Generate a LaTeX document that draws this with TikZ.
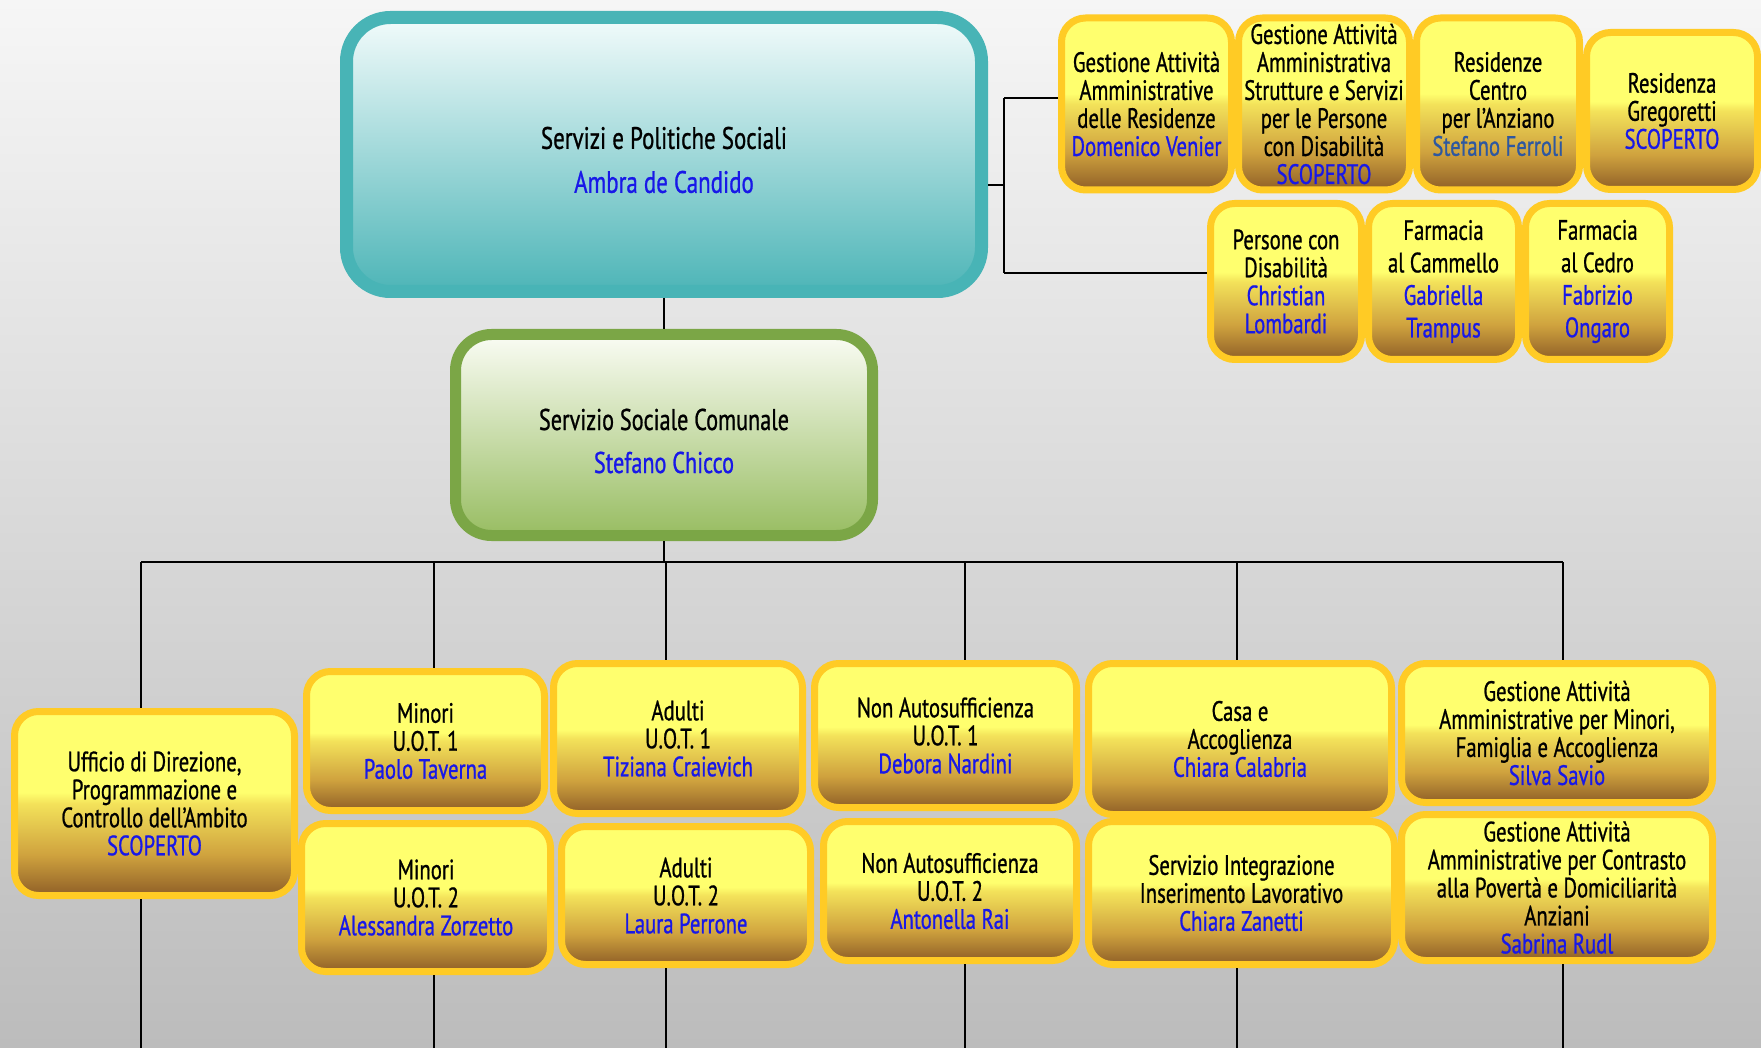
\documentclass[tikz,border=0pt]{standalone}
\usepackage{fontspec}
\setmainfont{PT Sans}[FakeStretch=0.74, FakeBold=0.8]
\definecolor{bgtop}{HTML}{F6F6F6}
\definecolor{bgbot}{HTML}{BCBCBC}
\definecolor{tealb}{HTML}{48B4B6}
\definecolor{tealtop}{HTML}{F2FBFB}
\definecolor{tealbot}{HTML}{4DB5B7}
\definecolor{greenb}{HTML}{7BA646}
\definecolor{greentop}{HTML}{FAFCF4}
\definecolor{greenbot}{HTML}{98BD62}
\definecolor{ybord}{HTML}{FFCB25}
\definecolor{ytop}{HTML}{FFFF6E}
\definecolor{ymid}{HTML}{F3E25A}
\definecolor{ylow}{HTML}{CFA23E}
\definecolor{ybot}{HTML}{8F5F27}
\definecolor{nameblue}{HTML}{1818E8}
\definecolor{nameslate}{HTML}{2E58A0}
\pgfdeclareverticalshading{yboxshade}{100bp}{color(0bp)=(ybot); color(25bp)=(ybot); color(36bp)=(ylow); color(50bp)=(ymid); color(53bp)=(ytop); color(100bp)=(ytop)}
\newcommand\nm[1]{\textcolor{nameblue}{#1}}
\tikzset{
  ybox/.style={draw=ybord, line width=7pt, rounded corners=24pt, shading=yboxshade,
    align=center, inner sep=0pt, font=\fontsize{28}{28}\selectfont},
  link/.style={draw=black, line width=1.6pt},
  bigtext/.style={align=center, inner sep=0pt, font=\fontsize{31}{44}\selectfont},
}
\begin{document}
\begin{tikzpicture}[x=1pt,y=-1pt]
\fill[top color=bgtop, bottom color=bgbot] (0,0) rectangle (1761,1048);
\useasboundingbox (0,0) rectangle (1761,1048);

% main boxes
\node[draw=tealb, line width=13pt, rounded corners=44pt, top color=tealtop, bottom color=tealbot,
  minimum width=635pt, minimum height=274pt, inner sep=0pt] (top) at (664,154.5) {};
\node[bigtext] (topT) at (664,160) {Servizi e Politiche Sociali\\\nm{Ambra de Candido}};
\node[draw=greenb, line width=11pt, rounded corners=36pt, top color=greentop, bottom color=greenbot,
  minimum width=417pt, minimum height=201pt, inner sep=0pt] (green) at (664,435) {};
\node[bigtext, font=\fontsize{30}{43}\selectfont] (greenT) at (664,441) {Servizio Sociale Comunale\\\nm{Stefano Chicco}};

% top right boxes
\node[ybox, minimum width=170pt, minimum height=172pt] (B1) at (1146.5,104) {Gestione Attività\\Amministrative\\delle Residenze\\\nm{Domenico Venier}};
\node[ybox, minimum width=171pt, minimum height=172pt] (B2) at (1324,104) {Gestione Attività\\Amministrativa\\Strutture e Servizi\\per le Persone\\con Disabilità\\\nm{SCOPERTO}};
\node[ybox, minimum width=163pt, minimum height=172pt] (B3) at (1498,104) {Residenze\\Centro\\per l'Anziano\\\textcolor{nameslate}{Stefano Ferroli}};
\node[ybox, minimum width=171pt, minimum height=157pt] (B4) at (1672,111) {Residenza\\Gregoretti\\\nm{SCOPERTO}};
\node[ybox, minimum width=151pt, minimum height=156pt] (B5) at (1286,281.5) {Persone con\\Disabilità\\\nm{Christian}\\\nm{Lombardi}};
\node[ybox, minimum width=150pt, minimum height=156pt, font=\fontsize{28}{32.5}\selectfont] (B6) at (1443.5,281.5) {Farmacia\\al Cammello\\\nm{Gabriella}\\\nm{Trampus}};
\node[ybox, minimum width=144pt, minimum height=156pt, font=\fontsize{28}{32.5}\selectfont] (B7) at (1597.5,281.5) {Farmacia\\al Cedro\\\nm{Fabrizio}\\\nm{Ongaro}};

% bottom boxes
\node[ybox, minimum width=280pt, minimum height=184pt] (U) at (154.5,803.5) {Ufficio di Direzione,\\Programmazione e\\Controllo dell'Ambito\\\nm{SCOPERTO}};
\node[ybox, minimum width=238pt, minimum height=139pt] (M1) at (425.5,741) {Minori\\U.O.T. 1\\\nm{Paolo Taverna}};
\node[ybox, minimum width=249pt, minimum height=148pt] (M2) at (426,897.5) {Minori\\U.O.T. 2\\\nm{Alessandra Zorzetto}};
\node[ybox, minimum width=249pt, minimum height=150pt] (A1) at (678,738.5) {Adulti\\U.O.T. 1\\\nm{Tiziana Craievich}};
\node[ybox, minimum width=249pt, minimum height=138pt] (A2) at (686,895.5) {Adulti\\U.O.T. 2\\\nm{Laura Perrone}};
\node[ybox, minimum width=262pt, minimum height=144pt] (N1) at (945.5,735.5) {Non Autosufficienza\\U.O.T. 1\\\nm{Debora Nardini}};
\node[ybox, minimum width=253pt, minimum height=139pt] (N2) at (950,891) {Non Autosufficienza\\U.O.T. 2\\\nm{Antonella Rai}};
\node[ybox, minimum width=303pt, minimum height=151pt] (C1) at (1240,739) {Casa e\\Accoglienza\\\nm{Chiara Calabria}};
\node[ybox, minimum width=306pt, minimum height=143pt] (C2) at (1241.5,893) {Servizio Integrazione\\Inserimento Lavorativo\\\nm{Chiara Zanetti}};
\node[ybox, minimum width=311pt, minimum height=139pt] (G1) at (1557,733) {Gestione Attività\\Amministrative per Minori,\\Famiglia e Accoglienza\\\nm{Silva Savio}};
\node[ybox, minimum width=311pt, minimum height=146pt] (G2) at (1557,887.5) {Gestione Attività\\Amministrative per Contrasto\\alla Povertà e Domiciliarità\\Anziani\\\nm{Sabrina Rudl}};

% connectors: top right bracket
\coordinate (jc) at (1004,185);
\coordinate (jt) at (1004,98);
\coordinate (jb) at (1004,273);
\draw[link] (top.east |- jc) -- (jc);
\draw[link] (jt) -- (jb);
\draw[link] (jt) -- (jt -| B1.west);
\draw[link] (jb) -- (jb -| B5.west);

% vertical main
\draw[link] (top.south) -- (green.north);

% bus
\coordinate (d1) at (141,562);
\coordinate (d2) at (434,562);
\coordinate (d3) at (666,562);
\coordinate (d4) at (965,562);
\coordinate (d5) at (1237,562);
\coordinate (d6) at (1563,562);
\coordinate (e1) at (141,1048);
\coordinate (e2) at (434,1048);
\coordinate (e3) at (666,1048);
\coordinate (e4) at (965,1048);
\coordinate (e5) at (1237,1048);
\coordinate (e6) at (1563,1048);
\draw[link] (green.south) -- (green.south |- d1);
\draw[link] (d1) -- (d6);
\draw[link] (d1) -- (d1 |- U.north);
\draw[link] (d2) -- (d2 |- M1.north);
\draw[link] (d3) -- (d3 |- A1.north);
\draw[link] (d4) -- (d4 |- N1.north);
\draw[link] (d5) -- (d5 |- C1.north);
\draw[link] (d6) -- (d6 |- G1.north);
\draw[link] (e1 |- U.south) -- (e1);
\draw[link] (e2 |- M2.south) -- (e2);
\draw[link] (e3 |- A2.south) -- (e3);
\draw[link] (e4 |- N2.south) -- (e4);
\draw[link] (e5 |- C2.south) -- (e5);
\draw[link] (e6 |- G2.south) -- (e6);
\end{tikzpicture}
\end{document}
